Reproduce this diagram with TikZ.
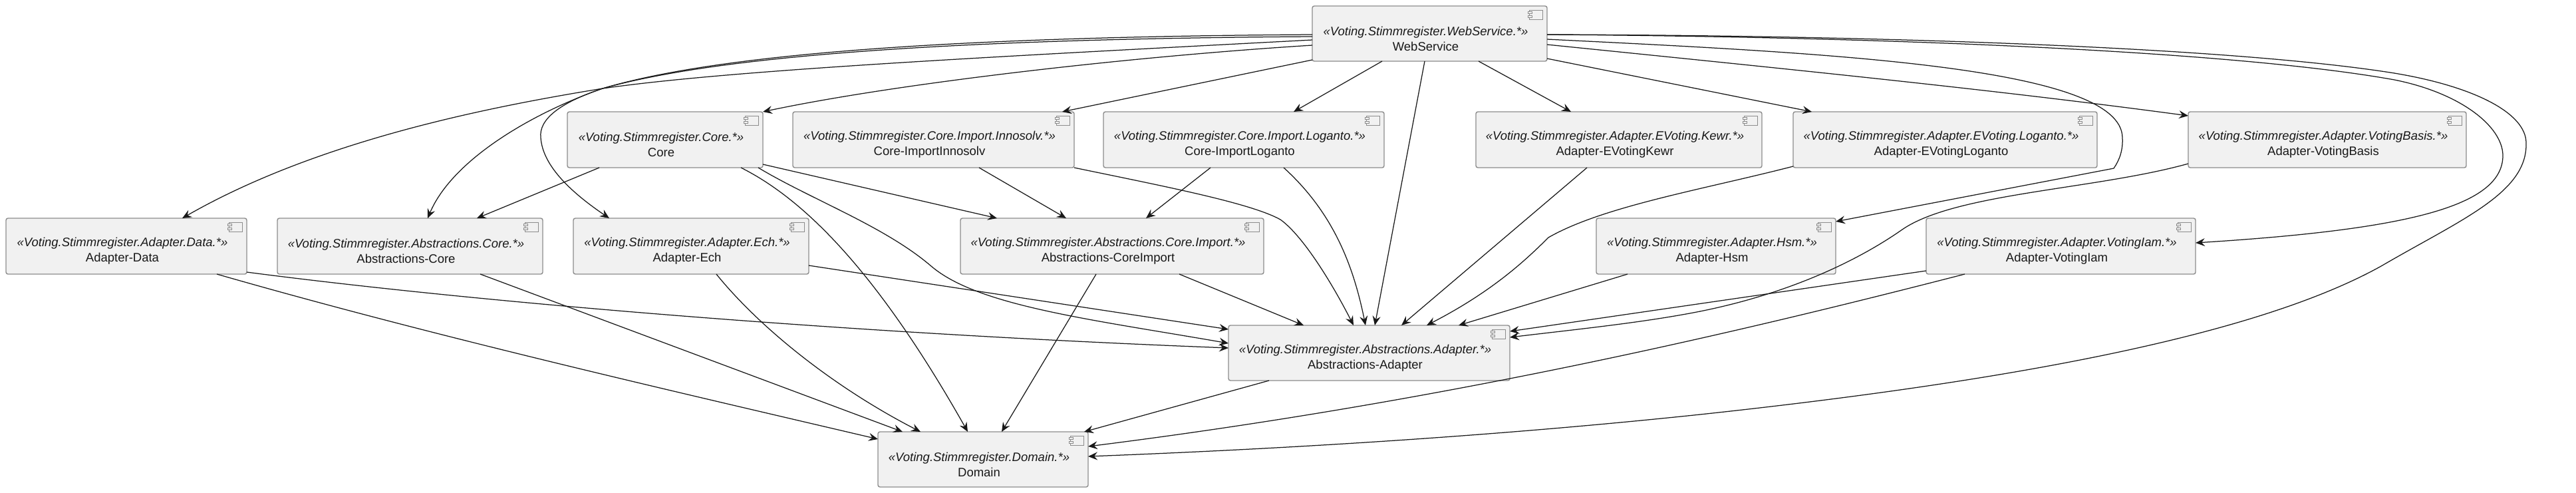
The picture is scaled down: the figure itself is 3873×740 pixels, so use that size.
\documentclass[tikz,border=0pt]{standalone}
\usepackage{fontspec}
\setmainfont{Liberation Sans}
\usetikzlibrary{arrows.meta}
\definecolor{boxfill}{HTML}{F1F1F1}
\definecolor{boxline}{HTML}{8C8C8C}
\definecolor{ink}{HTML}{181818}
\tikzset{
  compbox/.style={draw=boxline,fill=boxfill,line width=1.4pt,rounded corners=3pt,anchor=north west,outer sep=0pt,inner sep=0pt},
  comptext/.style={text=ink,align=center,font=\fontsize{18.5pt}{23pt}\selectfont,inner sep=0pt,anchor=center},
  iconline/.style={draw=boxline,fill=boxfill,line width=1pt},
  edge/.style={draw=ink,line width=1.25pt,-{Stealth[length=14pt,width=12pt,inset=5pt]}}
}
\newcommand\comp[7]{%
  \node[compbox,minimum width=#4pt,minimum height=#5pt] (#1) at (#2,#3) {};
  \node[comptext] (#1-t) at ([xshift=-6pt,yshift=-7.5pt]#1.center) {\itshape «#6»\\#7};
  \draw[iconline] ([shift={(-27,6)}]#1.north east) rectangle ([shift={(-7,20)}]#1.north east);
  \draw[iconline] ([shift={(-29,8)}]#1.north east) rectangle ([shift={(-23,11.5)}]#1.north east);
  \draw[iconline] ([shift={(-29,14)}]#1.north east) rectangle ([shift={(-23,17.5)}]#1.north east);
}
\begin{document}
\begin{tikzpicture}[x=1pt,y=-1pt]
\useasboundingbox (0,0) rectangle (3873,740);
\comp{w}{1973}{9}{353}{83}{Voting.Stimmregister.WebService.*}{WebService}
\comp{core}{853}{168}{294}{84}{Voting.Stimmregister.Core.*}{Core}
\comp{inno}{1192}{168}{423}{84}{Voting.Stimmregister.Core.Import.Innosolv.*}{Core-ImportInnosolv}
\comp{log}{1659}{168}{422}{84}{Voting.Stimmregister.Core.Import.Loganto.*}{Core-ImportLoganto}
\comp{kewr}{2219}{168}{430}{84}{Voting.Stimmregister.Adapter.EVoting.Kewr.*}{Adapter-EVotingKewr}
\comp{elog}{2696}{168}{457}{84}{Voting.Stimmregister.Adapter.EVoting.Loganto.*}{Adapter-EVotingLoganto}
\comp{vbas}{3290}{168}{418}{84}{Voting.Stimmregister.Adapter.VotingBasis.*}{Adapter-VotingBasis}
\comp{data}{9}{328}{362}{84}{Voting.Stimmregister.Adapter.Data.*}{Adapter-Data}
\comp{acore}{417}{328}{399}{84}{Voting.Stimmregister.Abstractions.Core.*}{Abstractions-Core}
\comp{ech}{862}{328}{354}{84}{Voting.Stimmregister.Adapter.Ech.*}{Adapter-Ech}
\comp{aimp}{1444}{328}{456}{84}{Voting.Stimmregister.Abstractions.Core.Import.*}{Abstractions-CoreImport}
\comp{hsm}{2400}{328}{360}{84}{Voting.Stimmregister.Adapter.Hsm.*}{Adapter-Hsm}
\comp{vlam}{2896}{328}{405}{84}{Voting.Stimmregister.Adapter.VotingIam.*}{Adapter-VotingIam}
\comp{aad}{1847}{489}{423}{83}{Voting.Stimmregister.Abstractions.Adapter.*}{Abstractions-Adapter}
\comp{dom}{1320}{649}{316}{83}{Voting.Stimmregister.Domain.*}{Domain}
% from WebService
\draw[edge] (w.west |- 0,60) .. controls (1500,85) and (1100,105) .. (906,133) .. controls (740,160) and (480,210) .. (274,0 |- data.north);
\draw[edge] (w.west |- 0,52) .. controls (1500,55) and (1100,75) .. (906,133) .. controls (800,170) and (680,240) .. (643,0 |- acore.north);
\draw[edge] (w.west |- 0,55) .. controls (1500,58) and (1100,78) .. (906,133) .. controls (840,155) and (810,180) .. (813,207) .. controls (816,250) and (860,290) .. (916,0 |- ech.north);
\draw[edge] (w.west |- 0,68) .. controls (1700,85) and (1350,125) .. (core.north east);
\draw[edge] (w.west |- 0,90) -- (1597,0 |- inno.north);
\draw[edge] (2078,0 |- w.south) -- (1945,0 |- log.north);
\draw[edge] (2142,0 |- w.south) -- (2067,0 |- aad.north);
\draw[edge] (2223,0 |- w.south) -- (2362,0 |- kewr.north);
\draw[edge] (w.east |- 0,88) -- (2724,0 |- elog.north);
\draw[edge] (w.east |- 0,67) .. controls (2700,105) and (3000,135) .. (vbas.west |- 0,174);
\draw[edge] (w.east |- 0,59) .. controls (2750,80) and (3190,100) .. (3191,207) .. controls (3192,225) and (3187,240) .. (3178,253) -- (hsm.east |- 0,333);
\draw[edge] (w.east |- 0,52) .. controls (2800,55) and (3350,75) .. (3600,120) .. controls (3700,140) and (3762,190) .. (3763,233) .. controls (3764,310) and (3620,345) .. (vlam.east |- 0,365);
\draw[edge] (w.east |- 0,52) .. controls (2800,53) and (3350,70) .. (3600,110) .. controls (3720,130) and (3798,170) .. (3798,215) .. controls (3800,290) and (3700,330) .. (3580,400) .. controls (3400,500) and (3050,570) .. (2556,623) .. controls (2300,650) and (2000,672) .. (dom.east |- 0,686);
% from Core
\draw[edge] (901,0 |- core.south) -- (717,0 |- acore.north);
\draw[edge] (1114,0 |- core.south) .. controls (1210,300) and (1320,410) .. (1455,0 |- dom.north);
\draw[edge] (core.east |- 0,247) -- (1499,0 |- aimp.north);
\draw[edge] (1140,0 |- core.south) .. controls (1220,300) and (1330,340) .. (1400,400) .. controls (1470,460) and (1640,480) .. (aad.west |- 0,516);
% from importers
\draw[edge] (1472,0 |- inno.south) -- (1603,0 |- aimp.north);
\draw[edge] (inno.south east) .. controls (1750,280) and (1880,305) .. (1925,330) .. controls (1960,355) and (2005,430) .. (2035,0 |- aad.north);
\draw[edge] (1820,0 |- log.south) -- (1723,0 |- aimp.north);
\draw[edge] (1930,0 |- log.south) .. controls (2005,320) and (2035,400) .. (2053,0 |- aad.north);
\draw[edge] (2386,0 |- kewr.south) -- (2107,0 |- aad.north);
\draw[edge] (elog.west |- 0,250) .. controls (2560,285) and (2410,310) .. (2328,357) .. controls (2290,395) and (2240,440) .. (2145,0 |- aad.north);
\draw[edge] (1773,0 |- aimp.south) -- (1960,0 |- aad.north);
\draw[edge] (1648,0 |- aimp.south) -- (1506,0 |- dom.north);
\draw[edge] (2447,0 |- hsm.south) -- (2193,0 |- aad.north);
\draw[edge] (vbas.west |- 0,246) .. controls (3150,285) and (2940,290) .. (2860,345) .. controls (2820,373) and (2720,435) .. (2556,468) .. controls (2470,485) and (2370,495) .. (aad.east |- 0,507);
\draw[edge] (vlam.west |- 0,407) -- (aad.east |- 0,498);
\draw[edge] (2954,0 |- vlam.south) .. controls (2650,490) and (2200,600) .. (dom.east |- 0,671);
\draw[edge] (1908,0 |- aad.south) -- (1630,0 |- dom.north);
\draw[edge] (326,0 |- data.south) .. controls (650,505) and (1000,585) .. (dom.west |- 0,660);
\draw[edge] (data.east |- 0,409) .. controls (700,452) and (1250,500) .. (aad.west |- 0,523);
\draw[edge] (722,0 |- acore.south) -- (1357,0 |- dom.north);
\draw[edge] (1077,0 |- ech.south) .. controls (1140,490) and (1250,580) .. (1384,0 |- dom.north);
\draw[edge] (ech.east |- 0,399) -- (aad.west |- 0,495);
\end{tikzpicture}
\end{document}
